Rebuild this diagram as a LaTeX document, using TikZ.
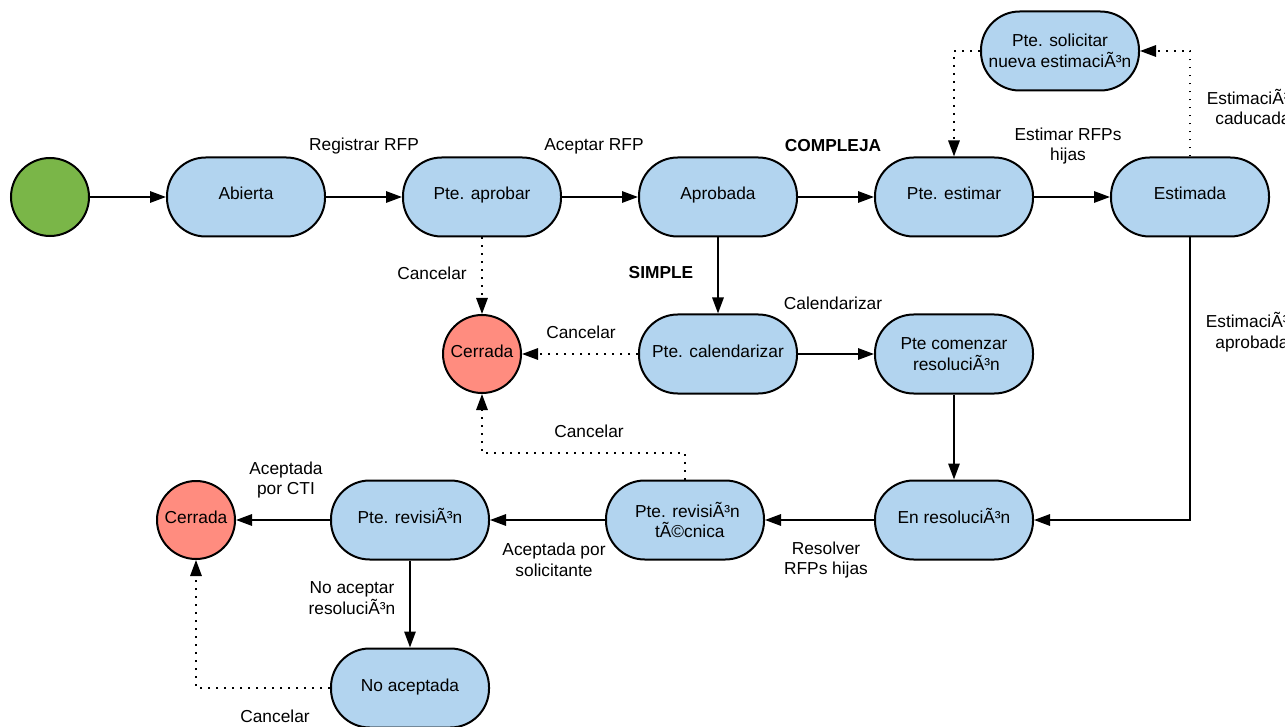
\documentclass[tikz,border=0pt]{standalone}
\usepackage{fontspec}
\setmainfont{Liberation Sans}
\usetikzlibrary{arrows.meta}
\definecolor{stblue}{HTML}{B2D4EF}
\definecolor{stred}{HTML}{FF8C7F}
\definecolor{stgreen}{HTML}{7AB648}
\begin{document}
\begin{tikzpicture}[x=0.75pt,y=-0.75pt,
  font=\fontsize{13}{15.5}\selectfont,
  state/.style={draw, line width=1.5pt, fill=stblue, rounded corners=29pt,
    minimum width=118.5pt, minimum height=59.25pt, align=center, inner sep=1pt},
  one/.style={text height=0.75em, text depth=0.3em},
  endst/.style={draw, circle, line width=1.5pt, fill=stred, minimum size=58.5pt, inner sep=0pt, one},
  startst/.style={draw, circle, line width=1.5pt, fill=stgreen, minimum size=58.5pt, inner sep=0pt},
  lbl/.style={align=center, inner sep=1pt},
  tr/.style={line width=1.5pt, -{Triangle[length=12pt,width=8.5pt]}},
  dtr/.style={tr, dash pattern=on 1.4pt off 4.6pt}
]
\useasboundingbox (0,0) rectangle (1285,727);
\clip (0,0) rectangle (1285,727);

% nodes
\node[startst] (start) at (50,197) {};
\node[state,one] (abierta) at (246,197) {Abierta};
\node[state,one] (paprobar) at (482,197) {Pte. aprobar};
\node[state,one] (aprobada) at (718,197) {Aprobada};
\node[state,one] (pestimar) at (954,197) {Pte. estimar};
\node[state,one] (estimada) at (1190,197) {Estimada};
\node[state] (psolic) at (1060,51) {Pte. solicitar\\nueva estimaciÃ³n};
\node[endst] (cerr1) at (482,354) {Cerrada};
\node[state,one] (pcal) at (718,354) {Pte. calendarizar};
\node[state] (pcom) at (954,354) {Pte comenzar\\~resoluciÃ³n};
\node[state,one] (enres) at (954,520) {En resoluciÃ³n};
\node[state] (prevtec) at (685,520) {~Pte. revisiÃ³n\\~~tÃ©cnica};
\node[state,one] (prev) at (410,520) {Pte. revisiÃ³n};
\node[endst] (cerr2) at (196,520) {Cerrada};
\node[state,one] (noacep) at (410,688) {No aceptada};

\coordinate (c1) at (1190,51);
\coordinate (c2) at (954,51);
\coordinate (c3) at (1190,520);
\coordinate (c4) at (685,453);
\coordinate (c5) at (482,453);
\coordinate (c6) at (196,688);

% connectors
\draw[tr] (start) -- (abierta);
\draw[tr] (abierta) -- (paprobar);
\draw[tr] (paprobar) -- (aprobada);
\draw[tr] (aprobada) -- (pestimar);
\draw[tr] (pestimar) -- (estimada);
\draw[dtr] (estimada.north) -- (c1) -- (psolic.east);
\draw[dtr] (psolic.west) -- (c2) -- (pestimar.north);
\draw[tr] (estimada.south) -- (c3) -- (enres.east);
\draw[dtr] (paprobar) -- (cerr1);
\draw[tr] (aprobada) -- (pcal);
\draw[dtr] (pcal) -- (cerr1);
\draw[tr] (pcal) -- (pcom);
\draw[tr] (pcom) -- (enres);
\draw[tr] (enres) -- (prevtec);
\draw[dtr] (prevtec.north) -- (c4) -- (c5) -- (cerr1.south);
\draw[tr] (prevtec) -- (prev);
\draw[tr] (prev) -- (cerr2);
\draw[tr] (prev) -- (noacep);
\draw[dtr] (noacep.west) -- (c6) -- (cerr2.south);

% labels
\node[lbl] (l1) at (364,146) {Registrar RFP};
\node[lbl] (l2) at (594,146) {Aceptar RFP};
\node[lbl] (l3) at (833,146) {\bfseries COMPLEJA};
\node[lbl] (l4) at (1068,146) {Estimar RFPs\\hijas};
\node[lbl] (l5) at (1253,107) {EstimaciÃ³n\\caducada};
\node[lbl] (l6) at (1252,332) {EstimaciÃ³n\\aprobada};
\node[lbl] (l7) at (432,273) {Cancelar};
\node[lbl] (l8) at (661,273) {\bfseries SIMPLE};
\node[lbl] (l9) at (581,332) {Cancelar};
\node[lbl] (l10) at (833,303) {Calendarizar};
\node[lbl] (l11) at (589,431) {Cancelar};
\node[lbl] (l12) at (286,480) {Aceptada\\por CTI};
\node[lbl] (l13) at (554,560) {Aceptada por\\solicitante};
\node[lbl] (l14) at (826,560) {Resolver\\RFPs hijas};
\node[lbl] (l15) at (352,598) {No aceptar\\resoluciÃ³n};
\node[lbl] (l16) at (275,716) {Cancelar};
\end{tikzpicture}
\end{document}
